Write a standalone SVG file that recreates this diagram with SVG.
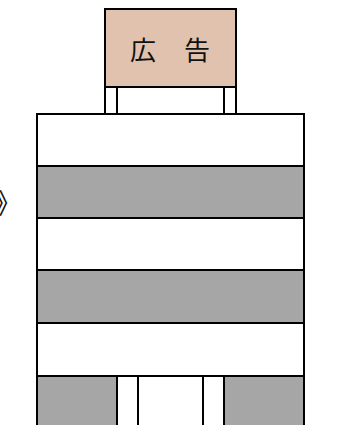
<svg xmlns="http://www.w3.org/2000/svg" width="350" height="425" viewBox="0 0 350 425">
<style>
.ln{stroke:#000;stroke-width:2;fill:none}
.gray{fill:#a6a6a6}
.white{fill:#fff}
.txt{font-family:"Noto Sans CJK JP","Noto Sans CJK SC",sans-serif;fill:#111;font-weight:400}
</style>
<rect width="350" height="425" fill="#fff"/>
<g id="arrow-mark">
<text class="txt" x="-6" y="214" font-size="28" font-weight="500">》</text>
</g>
<g id="sign">
<rect x="105" y="9" width="131" height="78" fill="#e0c2ae" stroke="#000" stroke-width="2"/>
<text class="txt" font-size="26" x="130 160 184" y="60" xml:space="preserve">広 告</text>
<line class="ln" x1="105" y1="87" x2="105" y2="114"/>
<line class="ln" x1="117" y1="87" x2="117" y2="114"/>
<line class="ln" x1="224" y1="87" x2="224" y2="114"/>
<line class="ln" x1="236" y1="87" x2="236" y2="114"/>
</g>
<g id="building">
<rect class="white" x="37" y="114" width="267" height="52"/>
<rect class="gray" x="37" y="166" width="267" height="52"/>
<rect class="white" x="37" y="218" width="267" height="52"/>
<rect class="gray" x="37" y="270" width="267" height="53"/>
<rect class="white" x="37" y="323" width="267" height="53"/>
<rect class="gray" x="37" y="376" width="80" height="50"/>
<rect class="gray" x="224" y="376" width="80" height="50"/>
<path class="ln" d="M37 427V114H304V427"/>
<line class="ln" x1="37" y1="166" x2="304" y2="166"/>
<line class="ln" x1="37" y1="218" x2="304" y2="218"/>
<line class="ln" x1="37" y1="270" x2="304" y2="270"/>
<line class="ln" x1="37" y1="323" x2="304" y2="323"/>
<line class="ln" x1="37" y1="376" x2="304" y2="376"/>
<line class="ln" x1="117" y1="376" x2="117" y2="427"/>
<line class="ln" x1="138" y1="376" x2="138" y2="427"/>
<line class="ln" x1="203" y1="376" x2="203" y2="427"/>
<line class="ln" x1="224" y1="376" x2="224" y2="427"/>
</g>
</svg>
